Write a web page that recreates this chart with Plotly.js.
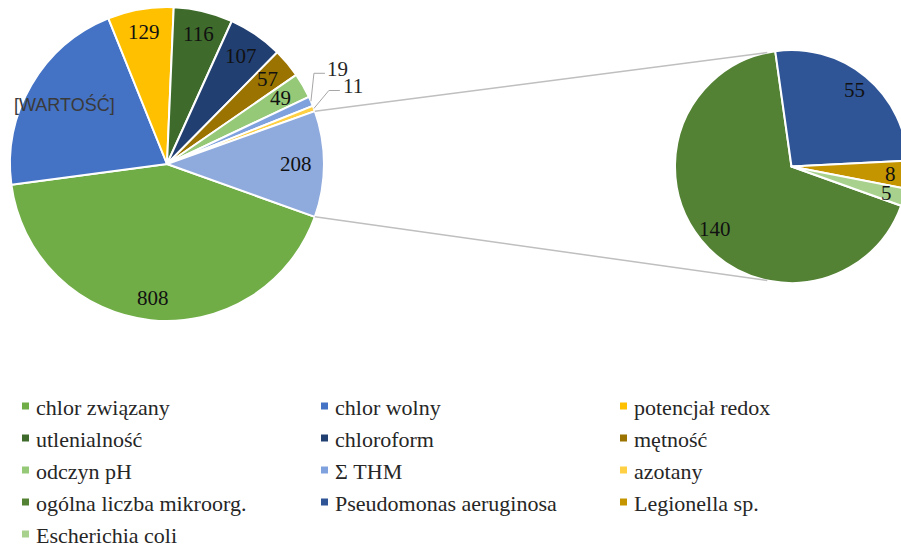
<!DOCTYPE html>
<html><head><meta charset="utf-8">
<script src="https://cdn.plot.ly/plotly-3.0.1.min.js"></script>
<style>
html,body{margin:0;padding:0;overflow:hidden;background:#fff;width:901px;height:549px}
#chart{width:920px;height:549px}
</style>
</head><body><div id="chart"></div>
<script>
// ---- data ----
const mainLabels = ['chlor związany','chlor wolny','potencjał redox','utlenialność','chloroform','mętność','odczyn pH','Σ THM','azotany'];
const mainValues = [808, 400, 129, 116, 107, 57, 49, 19, 11];
const mainText   = ['808','[WARTOŚĆ]','129','116','107','57','49','19','11'];
const subLabels  = ['ogólna liczba mikroorg.','Pseudomonas aeruginosa','Legionella sp.','Escherichia coli'];
const subValues  = [140, 55, 8, 5];
const subText    = ['140','55','8','5'];
const otherLabel = 'pozostałe';

// ---- style ----
const mainColors = ['#70AD47','#4472C4','#FFC000','#3E6B2B','#223F72','#9A7300','#95C877','#7FA2DF','#FFD043'];
const otherColor = '#8FAADC';
const subColors  = ['#548235','#2F5597','#C59500','#A9D18E'];
const W = 920, H = 549;
const main = {cx:167, cy:164, r:157};
const sub  = {cx:791.5, cy:166.5, r:116.5};
const outsideOffsets = {'Σ THM':[27,-32], 'azotany':[39,-22]};
const serif = 'Liberation Serif, Times New Roman, serif';
const sans = 'Liberation Sans, Arial, sans-serif';

const otherValue = subValues.reduce((a,b)=>a+b,0);
const allMainValues = mainValues.concat([otherValue]);
const T = allMainValues.reduce((a,b)=>a+b,0);
const rotation = 90 + (otherValue/T)*360/2;
const subT = otherValue;

const px = x => x / W;
const py = y => 1 - y / H;
const rad = d => d*Math.PI/180;
function pt(c, r, a){ return [c.cx + r*Math.sin(rad(a)), c.cy - r*Math.cos(rad(a))]; }

const data = [
  {type:'pie', labels: mainLabels.concat([otherLabel]), values: allMainValues,
   sort:false, direction:'clockwise', rotation: rotation, textinfo:'none',
   marker:{colors: mainColors.concat([otherColor]), line:{color:'#ffffff', width:2}},
   domain:{x:[px(main.cx-main.r), px(main.cx+main.r)], y:[py(main.cy+main.r), py(main.cy-main.r)]},
   showlegend:false, hoverinfo:'label+value'},
  {type:'pie', labels: subLabels, values: subValues,
   sort:false, direction:'clockwise', rotation: rotation, textinfo:'none',
   marker:{colors: subColors, line:{color:'#ffffff', width:2}},
   domain:{x:[px(sub.cx-sub.r), px(sub.cx+sub.r)], y:[py(sub.cy+sub.r), py(sub.cy-sub.r)]},
   showlegend:false, hoverinfo:'label+value'}
];

const annotations = [];
const shapes = [];

// main labels
let cum = 0;
allMainValues.forEach((v,i)=>{
  const mid = rotation + (cum + v/2)/T*360;
  cum += v;
  if (i >= mainLabels.length) {
    const rr = 0.86*main.r - 0.2*3*10.5*Math.abs(Math.sin(rad(mid)));
    const p = pt(main, rr, mid);
    annotations.push({x:px(p[0]), y:py(p[1]), xref:'paper', yref:'paper', text:String(v), showarrow:false,
      xanchor:'center', yanchor:'middle', font:{family:serif, size:21, color:'#111111'}});
    return;
  }
  const lab = mainLabels[i];
  const txt = mainText[i];
  if (outsideOffsets[lab]) {
    const e = pt(main, main.r, mid);
    const lx = e[0] + outsideOffsets[lab][0], ly = e[1] + outsideOffsets[lab][1];
    annotations.push({x:px(lx), y:py(ly), xref:'paper', yref:'paper', text:txt, showarrow:false,
      xanchor:'center', yanchor:'middle', font:{family:serif, size:21, color:'#262626'}});
    shapes.push({type:'path', xref:'paper', yref:'paper',
      path:`M${px(e[0])},${py(e[1])} L${px(lx-24)},${py(ly+4)} L${px(lx-13)},${py(ly+4)}`,
      line:{color:'#A6A6A6', width:1}});
  } else {
    const isWide = txt.length > 4;
    const rr = 0.86*main.r - 0.2*txt.length*10.5*Math.abs(Math.sin(rad(mid)));
    const p = pt(main, rr, mid);
    annotations.push({x:px(p[0]), y:py(p[1]), xref:'paper', yref:'paper', text:txt, showarrow:false,
      xanchor:'center', yanchor:'middle',
      font: isWide ? {family:sans, size:18, color:'#3A3A3A'} : {family:serif, size:21, color:'#111111'}});
  }
});

// secondary labels
cum = 0;
subValues.forEach((v,i)=>{
  const mid = rotation + (cum + v/2)/subT*360;
  cum += v;
  const p = pt(sub, 0.85*sub.r, mid);
  annotations.push({x:px(p[0]), y:py(p[1]), xref:'paper', yref:'paper', text:subText[i], showarrow:false,
    xanchor:'center', yanchor:'middle', font:{family:serif, size:21, color:'#111111'}});
});

// connector lines
const halfOther = (otherValue/T)*360/2;
const a1 = pt(main, main.r, 90 - halfOther), a2 = pt(main, main.r, 90 + halfOther);
const b1 = pt(sub, sub.r, -12), b2 = pt(sub, sub.r, 192);
[[a1,b1],[a2,b2]].forEach(([a,b])=>{
  shapes.push({type:'line', xref:'paper', yref:'paper', x0:px(a[0]), y0:py(a[1]), x1:px(b[0]), y1:py(b[1]),
    line:{color:'#BFBFBF', width:1.5}});
});

// legend (manual, 3 columns)
const legLabels = mainLabels.concat(subLabels);
const legColors = mainColors.concat(subColors);
legLabels.forEach((lab,i)=>{
  const col = i % 3, row = Math.floor(i/3);
  const x = 22 + col*299, y = 406 + row*32;
  shapes.push({type:'rect', xref:'paper', yref:'paper', x0:px(x), x1:px(x+7), y0:py(y+3.5), y1:py(y-3.5),
    fillcolor:legColors[i], line:{width:0}});
  annotations.push({x:px(x+12), y:py(y+1), xref:'paper', yref:'paper', text:lab, showarrow:false,
    xanchor:'left', yanchor:'middle', font:{family:serif, size:22, color:'#262626'}});
});

const layout = {
  width:W, height:H, margin:{l:0,r:0,t:0,b:0},
  paper_bgcolor:'#ffffff', plot_bgcolor:'#ffffff',
  showlegend:false, annotations: annotations, shapes: shapes
};
Plotly.newPlot('chart', data, layout, {displayModeBar:false, staticPlot:true});
</script>
</body></html>
